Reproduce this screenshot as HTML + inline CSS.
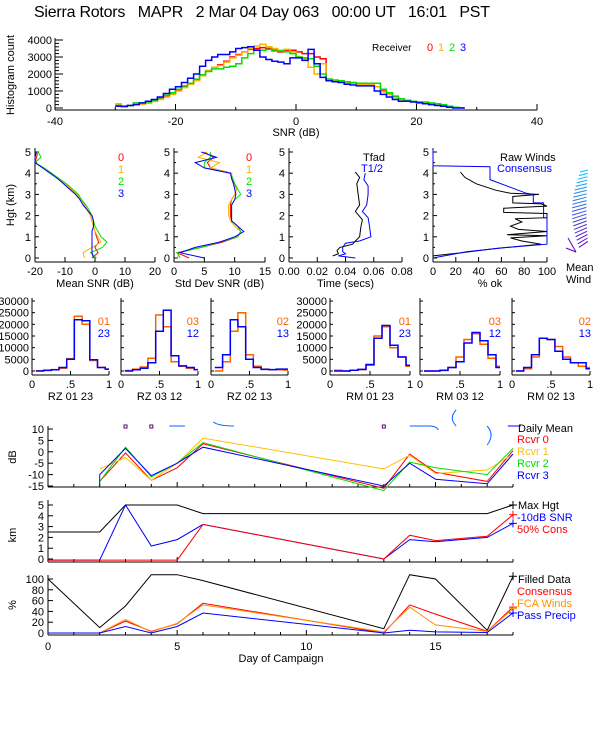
<!DOCTYPE html>
<html><head><meta charset="utf-8"><style>
html,body{margin:0;padding:0;background:#fff;}
svg{display:block;font-family:"Liberation Sans",sans-serif;}
</style></head><body>
<svg id="chart" width="600" height="750" viewBox="0 0 600 750" xmlns="http://www.w3.org/2000/svg">
<text x="34" y="17" font-size="16" xml:space="preserve" style="white-space:pre" textLength="456">Sierra Rotors   MAPR   2 Mar 04 Day 063   00:00 UT   16:01   PST</text>
</svg>
<script>
// ---------- data: SNR histogram (1 dB bins from -30) ----------
const snrBinStart = -30;
const histR = [150,100,150,200,250,300,400,550,700,850,1050,1250,1400,1650,1900,2200,2400,2550,2750,3000,3150,3300,3450,3500,3550,3500,3400,3300,3400,3400,3300,3200,3200,3000,2900,1700,1600,1550,1500,1450,1400,1350,1350,1250,1000,800,650,500,450,400,350,300,250,200,150,80,30,10];
const histO = [250,50,150,200,220,280,380,500,650,800,1000,1200,1400,1600,1900,2200,2400,2500,2700,2950,3100,3300,3500,3650,3750,3600,3500,3400,3450,3300,3000,2900,2400,2000,2600,1650,1600,1550,1500,1450,1400,1350,1350,1250,950,800,600,500,450,400,350,300,250,200,150,80,30,10];
const histG = [150,100,150,300,300,350,450,600,750,900,1100,1300,1450,1700,1950,2150,2300,2300,2400,2450,2600,2950,3200,3400,3400,3450,3350,3350,3300,3200,3000,2950,2900,2450,2000,1700,1650,1600,1550,1500,1450,1450,1450,1450,1100,900,700,550,450,400,350,350,300,250,200,100,40,10];
const histB = [100,100,150,200,300,400,500,650,850,1100,1250,1500,1750,2000,2450,2800,3000,3150,3150,3300,3500,3550,3600,3400,3000,2850,2750,2700,2600,2950,2950,2800,3450,2600,1800,1600,1550,1500,1400,1350,1300,1300,1300,1000,800,650,500,400,400,350,300,250,200,150,100,50,0,0];

// ---------- profile data ----------
const profH = [0,0.25,0.5,0.75,1,1.25,1.5,1.75,2,2.25,2.5,2.75,3,3.25,3.5,3.75,4,4.25,4.5,4.75,5];
const meanR = [-1,1,0,1.2,0.5,0,-0.5,-1,-1.5,-2.5,-3.5,-4.5,-6,-8,-10,-12.5,-14.5,-17,-20,-19.5,-19];
const meanO = [-3.5,-4,-1,2,1,0,-0.5,-1,-1.5,-2.5,-3.5,-4.5,-6,-8,-10,-12,-14.5,-17,-20,-20,-19];
const meanG = [0.5,-1.5,2.5,4,2,1,0,-0.5,-1,-2,-3,-4.5,-5.5,-7.5,-9.5,-12,-14.5,-17,-20,-18,-19];
const meanB = [-0.5,-1,-1,-1,-1,-1,-0.5,-0.5,-1,-2.5,-4,-5,-6.5,-8.5,-10.5,-12.5,-15,-17.5,-20,-20,-19.5];
const sdR = [2.5,0.5,4.5,8,10.5,11,10.5,9.5,9.3,9.3,9.3,9.5,10,10.3,10,9.5,9.5,6,5.5,6.5,5];
const sdO = [0.5,1,4.5,7.5,10.5,11,10,9.3,9,9,9,9.5,10,10.3,9.8,9.5,9.5,6,7.5,4,5.5];
const sdG = [1,0.5,4.5,7.5,10.5,11,10.5,9.5,9.5,9.5,9.5,10,11,10.5,10,9.7,9.3,5,5,6,6];
const sdB = [5,1,3.5,7.5,10,11.5,10.5,9.5,9.5,9.5,9.5,10,10.2,10,9.8,9.5,9.3,5,3.5,7,4.5];
const tfadH = [0.1,0.2,0.35,0.5,0.65,0.8,1,1.5,1.8,2.2,2.5,3,3.5,3.8,4.05];
const tfadV = [0.031,0.035,0.034,0.036,0.045,0.047,0.05,0.051,0.052,0.047,0.05,0.049,0.048,0.05,0.047];
const thalfH = [0,0.1,0.2,0.3,0.5,0.7,0.8,1,1.5,1.9,2.2,2.5,3,3.4,3.7,4.0];
const thalfV = [0.047,0.035,0.04,0.038,0.038,0.04,0.05,0.058,0.057,0.056,0.052,0.055,0.056,0.056,0.053,0.054];
const consH = [0,0.3,0.5,0.65,1.9,1.9,2.6,2.6,3.0,3.05,3.7,4.3,4.35,5.1];
const consV = [0,30,65,100,100,97,97,88,88,82,50,50,0,0];
const rawH = [0.1,0.25,0.45,0.6,0.65,0.8,0.95,1.05,1.1,1.25,1.35,1.5,1.7,1.85,1.9,2.1,2.15,2.35,2.45,2.55,2.6,2.9,3.0,3.05,3.2,3.5,3.8,4.05];
const rawV = [0,25,55,85,95,78,68,100,65,100,75,68,78,72,100,100,62,62,100,95,70,70,93,68,55,38,28,24];

// ---------- correlation histograms (bin centres .1 .. 1.0) ----------
const corrCenters = [0.1,0.2,0.3,0.4,0.5,0.6,0.7,0.8,0.9,1.0];
const rz0123O = [100,200,600,1200,5300,23500,20000,4500,1500,800];
const rz0123B = [0,300,500,1500,5000,22000,21500,4800,1500,800];
const rz0312O = [200,800,1700,5500,24000,19000,4000,2000,1200,500];
const rz0312B = [0,500,1200,3500,17000,26000,6500,2200,1500,600];
const rz0213O = [0,4000,17000,25000,7000,2000,800,500,500,400];
const rz0213B = [1500,7000,22000,19000,5000,1500,700,600,800,800];
const rm0123O = [300,0,300,600,2500,15000,19000,10000,6000,2000];
const rm0123B = [0,0,300,700,2800,14000,19500,11000,6000,2500];
const rm0312O = [0,0,200,1500,6000,13500,16000,11500,5500,2000];
const rm0312B = [0,0,300,1500,4000,12000,16500,13000,7000,1500];
const rm0213O = [0,1000,6000,14000,13500,10500,6000,3500,2000,1500];
const rm0213B = [0,1500,7000,14000,13500,8500,5000,3500,3500,1000];

// ---------- campaign time series ----------
const days = [2,3,4,5,6,13,14,15,17,18];
const dbR = [-13,-0.5,-12.5,-7,3.5,-16,-1,-9,-13,0.5];
const dbO = [-7.5,-2.5,-12.5,-5,6,-7.5,-1.5,-9.5,-8,-1];
const dbG = [-13,2,-11,-5,4,-17,-4.5,-7,-10,1.5];
const dbB = [-10,1.5,-10.5,-5,2,-15,-5,-12,-14,-1];
const kmDays = [0,2,3,4,5,6,13,14,15,17,18];
const kmMax = [2.5,2.5,5,5,5,4.2,4.2,4.2,4.2,4.2,5];
const kmSnr = [-0.1,-0.1,5,1.2,1.8,3.2,0,1.8,1.6,2,3.3];
const kmCons = [-0.1,-0.1,-0.1,-0.1,-0.1,3.2,0,2.2,1.7,2.1,4.1];
const pctDays = [0,2,3,4,5,6,13,14,15,17,18];
const pctFilled = [100,10,50,108,108,97,8,108,100,5,105];
const pctCons = [0,0,22,3,17,55,0,52,35,3,48];
const pctFca = [0,0,25,2,18,52,2,48,15,3,45];
const pctPrecip = [0,0,12,0,12,37,0,5,2,1,37];

// ---------- drawing ----------
const NS = "http://www.w3.org/2000/svg";
const svg = document.getElementById('chart');
function add(tag, attrs, name, txt){
  const el = document.createElementNS(NS, tag);
  for (const k in attrs) el.setAttribute(k, attrs[k]);
  
  
  if (txt !== undefined) el.textContent = txt;
  svg.appendChild(el);
  return el;
}
function lin(d0,d1,p0,p1){ return v => p0 + (v-d0)*(p1-p0)/(d1-d0); }
function txt(x,y,s,color,anchor,name,size){
  return add('text',{x:x,y:y,fill:color||'#000','font-size':size||11,'text-anchor':anchor||'start'},name,s);
}
function vtxt(x,y,s,name){
  return add('text',{x:x,y:y,'font-size':11,'text-anchor':'middle',transform:'rotate(-90 '+x+' '+y+')'},name,s);
}
function line(x1,y1,x2,y2,color,name,w){
  return add('line',{x1:x1,y1:y1,x2:x2,y2:y2,stroke:color||'#000','stroke-width':w||1},name);
}
function poly(pts,color,name,w){
  return add('polyline',{points:pts.map(p=>p[0].toFixed(1)+','+p[1].toFixed(1)).join(' '),fill:'none',stroke:color,'stroke-width':w||1},name);
}
function stepPath(edges0,w,vals,X,Y,color,name,sw){
  let d = 'M'+X(edges0).toFixed(1)+','+Y(vals[0]).toFixed(1);
  vals.forEach((v,i)=>{
    const xb = X(edges0+(i+1)*w);
    d += ' V'+Y(v).toFixed(1)+' H'+xb.toFixed(1);
  });
  return add('path',{d:d,fill:'none',stroke:color,'stroke-width':sw||1.5},name);
}

// ===== Top SNR histogram =====
{
  const X = lin(-40,40,55,537), Y = lin(0,4000,108,40);
  line(55,110,537,110,'#000','hist-x-axis');
  line(55,38,55,110,'#000','hist-y-axis');
  for (let v=0; v<=4000; v+=200){ line(55,Y(v),v%1000===0?63:59,Y(v),'#000','hist-y-tick'); }
  [0,1000,2000,3000,4000].forEach(v=>txt(52,Y(v)+4,String(v),'#000','end','hist-y-label'));
  [-40,-20,0,20,40].forEach(v=>{ line(X(v),110,X(v),104,'#000','hist-x-tick'); txt(X(v),125,String(v),'#000','middle','hist-x-label'); });
  [-30,-10,10,30].forEach(v=>line(X(v),110,X(v),107,'#000','hist-x-minor-tick'));
  txt(296,136,'SNR (dB)','#000','middle','hist-x-title');
  vtxt(14,75,'Histogram count','hist-y-title');
  stepPath(snrBinStart,1,histR,X,Y,'#ff0000','hist-rcvr-0');
  stepPath(snrBinStart,1,histO,X,Y,'#ffb000','hist-rcvr-1');
  stepPath(snrBinStart,1,histG,X,Y,'#00e000','hist-rcvr-2');
  stepPath(snrBinStart,1,histB,X,Y,'#0000ff','hist-rcvr-3');
  txt(372,51,'Receiver','#000','start','hist-legend-title',10);
  txt(427,51,'0','#ff0000','start','legend-rcvr-0');
  txt(438,51,'1','#ffb000','start','legend-rcvr-1');
  txt(449,51,'2','#00e000','start','legend-rcvr-2');
  txt(460,51,'3','#0000ff','start','legend-rcvr-3');
}

// ===== Profile panels =====
const HY = lin(0,5,258,152);
function profAxes(x0,x1,ticks,X,labels,title,name){
  line(x0,262,x1,262,'#000',name+'-x-axis');
  line(x0,148,x0,262,'#000',name+'-y-axis');
  for (let h=0; h<=5; h++){ line(x0,HY(h),x0+4,HY(h),'#000',name+'-y-tick'); txt(x0-4,HY(h)+4,String(h),'#000','end',name+'-y-label'); }
  for (let h=0.5; h<5; h+=1) line(x0,HY(h),x0+2,HY(h),'#000',name+'-y-minor');
  ticks.forEach((t,i)=>{ line(X(t),262,X(t),257,'#000',name+'-x-tick'); txt(X(t),275,labels[i],'#000','middle',name+'-x-label'); });
  txt((x0+x1)/2,287,title,'#000','middle',name+'-x-title');
}
{
  const X = lin(-20,20,35,155);
  profAxes(35,155,[-20,-10,0,10,20],X,['-20','-10','0','10','20'],'Mean SNR (dB)','mean-snr');
  vtxt(14,205,'Hgt (km)','profile-y-title');
  [[meanR,'#ff0000'],[meanO,'#ffb000'],[meanG,'#00e000'],[meanB,'#0000ff']].forEach((s,k)=>{
    poly(profH.map((h,i)=>[X(s[0][i]),HY(h)]),s[1],'mean-snr-rcvr-'+k);
  });
  ['0','1','2','3'].forEach((s,i)=>txt(118,161+i*12,s,['#ff0000','#ffb000','#00e000','#0000ff'][i],'start','mean-snr-legend-'+s));
}
{
  const X = lin(0,15,174,265);
  profAxes(174,265,[0,5,10,15],X,['0','5','10','15'],'Std Dev SNR (dB)','std-snr');
  [[sdR,'#ff0000'],[sdO,'#ffb000'],[sdG,'#00e000'],[sdB,'#0000ff']].forEach((s,k)=>{
    poly(profH.map((h,i)=>[X(s[0][i]),HY(h)]),s[1],'std-snr-rcvr-'+k);
  });
  ['0','1','2','3'].forEach((s,i)=>txt(246,161+i*12,s,['#ff0000','#ffb000','#00e000','#0000ff'][i],'start','std-snr-legend-'+s));
}
{
  const X = lin(0,0.08,289,402);
  profAxes(289,402,[0,0.02,0.04,0.06,0.08],X,['0.00','0.02','0.04','0.06','0.08'],'Time (secs)','time');
  poly(tfadH.map((h,i)=>[X(tfadV[i]),HY(h)]),'#000','tfad-line');
  poly(thalfH.map((h,i)=>[X(thalfV[i]),HY(h)]),'#0000ff','t-half-line');
  txt(363,161,'Tfad','#000','start','tfad-legend');
  txt(361,172,'T1/2','#0000ff','start','t-half-legend');
}
{
  const X = lin(0,100,433,547);
  profAxes(433,547,[0,20,40,60,80,100],X,['0','20','40','60','80','100'],'% ok','pct-ok');
  poly(rawH.map((h,i)=>[X(rawV[i]),HY(h)]),'#000','raw-winds-line');
  poly(consH.map((h,i)=>[X(consV[i]),HY(h)]),'#0000ff','consensus-line');
  txt(500,161,'Raw Winds','#000','start','raw-winds-legend');
  txt(497,172,'Consensus','#0000ff','start','consensus-legend');
}
// mean wind barbs (decorative profile)
for (let i=0;i<22;i++){
  const y = 170 + i*3.4;
  const t = i/21;
  const r = Math.round(0 + 100*t), g = Math.round(200*(1-t)), b = Math.round(255 - 60*t);
  const len = 10 + 8*Math.sin(t*3);
  line(590-len*0.2,y,590-len,y+2+t*4,'rgb('+r+','+g+','+b+')','mean-wind-barb');
}
line(568,238,576,252,'#6000c0','mean-wind-barb');
line(566,248,576,252,'#6000c0','mean-wind-barb');
txt(566,271,'Mean','#000','start','mean-wind-label-1');
txt(566,283,'Wind','#000','start','mean-wind-label-2');

// ===== Correlation histograms =====
const CY = lin(0,30000,371,301);
const corrPanels = [
  [32,109,rz0123O,rz0123B,'RZ  01 23','01','23',true],
  [121,198,rz0312O,rz0312B,'RZ  03 12','03','12',false],
  [211,288,rz0213O,rz0213B,'RZ  02 13','02','13',false],
  [330,410,rm0123O,rm0123B,'RM  01 23','01','23',true],
  [420,500,rm0312O,rm0312B,'RM  03 12','03','12',false],
  [512,590,rm0213O,rm0213B,'RM  02 13','02','13',false]
];
corrPanels.forEach((p,k)=>{
  const [x0,x1,o,b,title,l1,l2,lab] = p;
  const X = lin(0,1,x0,x1);
  const nm = 'corr-'+title.replace(/\s+/g,'-').toLowerCase();
  line(x0,375,x1,375,'#000',nm+'-x-axis');
  line(x0,298,x0,375,'#000',nm+'-y-axis');
  for (let v=0; v<=30000; v+=5000){
    line(x0,CY(v),x0+3,CY(v),'#000',nm+'-y-tick');
    if (lab) txt(x0-3,CY(v)+4,String(v),'#000','end',nm+'-y-label');
  }
  [[0,'0'],[0.5,'.5'],[1,'1']].forEach(t=>{ line(X(t[0]),375,X(t[0]),371,'#000',nm+'-x-tick'); txt(X(t[0]),388,t[1],'#000','middle',nm+'-x-label'); });
  txt((x0+x1)/2,400,title,'#000','middle',nm+'-title');
  const Xc = v => X(Math.min(v,1));
  const draw = (vals,color,name)=>{
    let d = '';
    corrCenters.forEach((c,i)=>{
      const a = Xc(c-0.05), e = Xc(c+0.05), y = CY(vals[i]).toFixed(1);
      d += (i===0?'M'+a.toFixed(1)+','+y:' V'+y)+' H'+e.toFixed(1);
    });
    add('path',{d:d,fill:'none',stroke:color,'stroke-width':1.5},name);
  };
  draw(o,'#ff6000',nm+'-pair-'+l1);
  draw(b,'#0000ff',nm+'-pair-'+l2);
  txt(x1+1,325,l1,'#ff6000','end',nm+'-legend-'+l1);
  txt(x1+1,337,l2,'#0000ff','end',nm+'-legend-'+l2);
});

// ===== Time series =====
const DX = lin(0,18,48,513);
function tsAxes(yTop,yBot,Y,vals,title,titleY,name){
  line(48,yBot,513,yBot,'#000',name+'-x-axis');
  line(48,yTop,48,yBot,'#000',name+'-y-axis');
  for (let d=0; d<=18; d++) line(DX(d),yBot,DX(d),yBot-(d%5===0?5:3),'#000',name+'-x-tick');
  vals.forEach(v=>{ line(48,Y(v),53,Y(v),'#000',name+'-y-tick'); txt(44,Y(v)+4,String(v),'#000','end',name+'-y-label'); });
  vtxt(16,titleY,title,name+'-y-title');
}
{
  const Y = lin(10,-15,429,486);
  tsAxes(426,487,Y,[10,5,0,-5,-10,-15],'dB',457,'db-panel');
  [[dbR,'#ff0000'],[dbO,'#ffc000'],[dbG,'#00e000'],[dbB,'#0000ff']].forEach((s,k)=>{
    poly(days.map((d,i)=>[DX(d),Y(s[0][i])]),s[1],'db-rcvr-'+k);
  });
  line(DX(2),Y(-15),DX(2),Y(dbB[0]),'#0000ff','db-rcvr-3-start');
  [3,4,13].forEach(d=>add('rect',{x:DX(d)-1.5,y:425,width:3,height:3,fill:'none',stroke:'#600080'},'daily-mean-marker'));
  line(DX(4.7),426,DX(5.3),426,'#0066ff','daily-mean-trace');
  add('path',{d:'M'+DX(6.4)+',422 Q'+DX(6.6)+',426 '+DX(7.2)+',426',fill:'none',stroke:'#0066ff'},'daily-mean-trace');
  add('path',{d:'M'+DX(14)+',426 L'+DX(14.8)+',426 Q'+DX(15.1)+',427 '+DX(15.1)+',430',fill:'none',stroke:'#0066ff'},'daily-mean-trace');
  add('path',{d:'M'+DX(15.8)+',410 Q'+DX(15.5)+',418 '+DX(15.8)+',426',fill:'none',stroke:'#0066ff'},'daily-mean-trace');
  add('path',{d:'M'+DX(17)+',426 Q'+DX(17.3)+',435 '+DX(17)+',445',fill:'none',stroke:'#0066ff'},'daily-mean-trace');
  line(DX(17.8),426,DX(18.3),426,'#0000ff','daily-mean-trace');
  txt(518,432,'Daily Mean','#000','start','legend-daily-mean');
  txt(517,443,'Rcvr 0','#ff0000','start','legend-db-rcvr-0');
  txt(517,455,'Rcvr 1','#ffc000','start','legend-db-rcvr-1');
  txt(517,467,'Rcvr 2','#00e000','start','legend-db-rcvr-2');
  txt(517,479,'Rcvr 3','#0000ff','start','legend-db-rcvr-3');
}
{
  const Y = lin(5,0,505,559);
  tsAxes(500,562,Y,[5,4,3,2,1,0],'km',535,'km-panel');
  poly(kmDays.map((d,i)=>[DX(d),Y(kmMax[i])]),'#000','max-hgt-line');
  poly(kmDays.map((d,i)=>[DX(d),Y(kmSnr[i])]),'#0000ff','snr-10db-line');
  poly(kmDays.map((d,i)=>[DX(d),Y(kmCons[i])]),'#ff0000','cons-50-line');
  [[kmMax,'#000'],[kmSnr,'#0000ff'],[kmCons,'#ff0000']].forEach(s=>{
    const x=DX(18), y=Y(s[0][s[0].length-1]);
    line(x-4,y,x+4,y,s[1],'km-end-marker'); line(x,y-4,x,y+4,s[1],'km-end-marker');
  });
  txt(518,509,'Max Hgt','#000','start','legend-max-hgt');
  txt(517,521,'-10dB SNR','#0000ff','start','legend-snr-10db');
  txt(517,533,'50% Cons','#ff0000','start','legend-cons-50');
}
{
  const Y = lin(100,0,579,633);
  tsAxes(575,635,Y,[100,80,60,40,20,0],'%',605,'pct-panel');
  poly(pctDays.map((d,i)=>[DX(d),Y(pctFilled[i])]),'#000','filled-data-line');
  poly(pctDays.map((d,i)=>[DX(d),Y(pctCons[i])]),'#ff0000','consensus-pct-line');
  poly(pctDays.map((d,i)=>[DX(d),Y(pctFca[i])]),'#ff9000','fca-winds-line');
  poly(pctDays.map((d,i)=>[DX(d),Y(pctPrecip[i])]),'#0000ff','pass-precip-line');
  [[pctFilled,'#000'],[pctCons,'#ff0000'],[pctFca,'#ff9000'],[pctPrecip,'#0000ff']].forEach(s=>{
    const x=DX(18), y=Y(s[0][s[0].length-1]);
    line(x-4,y,x+4,y,s[1],'pct-end-marker'); line(x,y-4,x,y+4,s[1],'pct-end-marker');
  });
  [[0,'0'],[5,'5'],[10,'10'],[15,'15']].forEach(t=>txt(DX(t[0]),650,t[1],'#000','middle','day-x-label'));
  txt(281,662,'Day of Campaign','#000','middle','day-x-title');
  txt(518,583,'Filled Data','#000','start','legend-filled-data');
  txt(517,595,'Consensus','#ff0000','start','legend-consensus-pct');
  txt(517,607,'FCA Winds','#ff9000','start','legend-fca-winds');
  txt(517,619,'Pass Precip','#0000ff','start','legend-pass-precip');
}
</script>
</body></html>
